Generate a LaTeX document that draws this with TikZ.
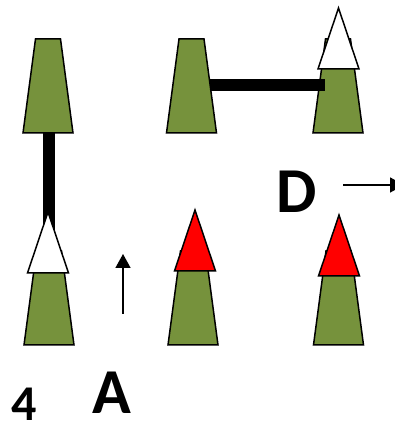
\documentclass[tikz,border=0pt]{standalone}
\usepackage{fontspec}
\setmainfont{Carlito}
\usetikzlibrary{arrows.meta,calc}

\definecolor{olive}{RGB}{118,146,60}

\tikzset{
    pics/cone/.style={code={
        \draw[line width=1.5pt, line join=miter, fill=olive] (-25,0) -- (25,0) -- (12.5,94) -- (-12.5,94) -- cycle;
    }},
    pics/hat/.style={code={
        \draw[line width=1.5pt, line join=miter, fill=#1] (-20.5,0) -- (20.5,0) -- (0,61) -- cycle;
    }},
    bar/.style={line width=12pt},
    move/.style={line width=1.6pt, -{Triangle[width=15pt,length=14pt]}},
    label/.style={font=\bfseries\fontsize{64}{64}\selectfont, anchor=base, inner sep=0pt}
}

\begin{document}
\begin{tikzpicture}[x=1pt, y=1pt]
    \useasboundingbox (0,0) rectangle (394,425);
    % base centres of the pieces
    \coordinate (tl) at (48, 292);
    \coordinate (tm) at (191.5, 292);
    \coordinate (tr) at (338, 292);
    \coordinate (bl) at (49, 80);
    \coordinate (bm) at (193, 80);
    \coordinate (br) at (338.5, 80);

    \pic at (tl) {cone};
    \pic at (tm) {cone};
    \pic at (tr) {cone};
    \pic at (bl) {cone};
    \pic at (bm) {cone};
    \pic at (br) {cone};

    % bars between pieces
    \coordinate (h1) at ($(tm)+(18.5,48)$);
    \coordinate (h2) at ($(tr)+(-13,48)$);
    \draw[bar] (h1) -- (h2);
    \coordinate (v1) at ($(tl)+(0.5,0)$);
    \coordinate (v2) at ($(bl)+(-0.5,100)$);
    \draw[bar] (v1) -- (v2);

    \pic at (338.5, 356) {hat=white};
    \pic at (48, 152) {hat=white};
    \pic at (195, 154) {hat=red};
    \pic at (339, 149) {hat=red};

    % arrows
    \coordinate (a1) at (123, 111);
    \coordinate (a2) at (123, 171);
    \draw[move] (a1) -- (a2);
    \coordinate (d1) at (343, 240);
    \coordinate (d2) at (404, 240);
    \draw[move] (d1) -- (d2);

    \node[label] (d) at (297, 212) {D};
    \node[label] (a) at (112, 11) {A};
    \node[label, font=\bfseries\fontsize{50}{50}\selectfont] (four) at (24, 5) {4};
\end{tikzpicture}
\end{document}
